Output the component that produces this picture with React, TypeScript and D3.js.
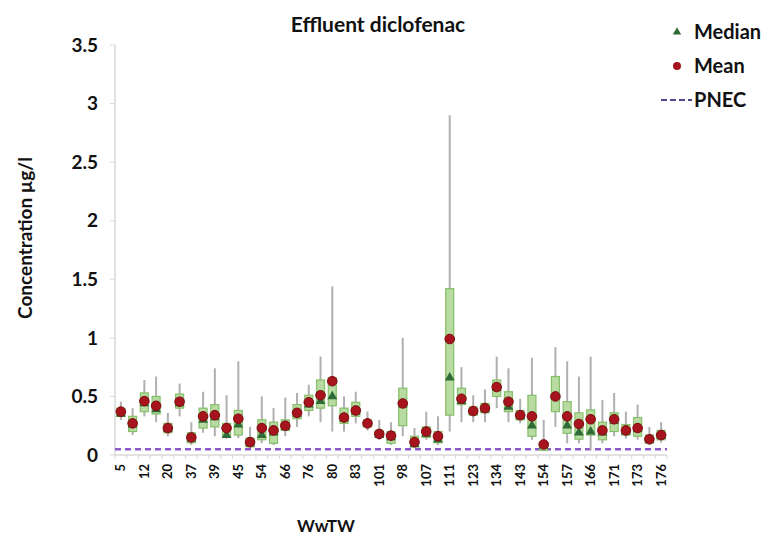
import React from "react";
import * as d3 from "d3";

const categories = ["5","8","12","17","20","31","37","38","39","42","45","50","54","60","66","70","76","78","80","82","83","95","101","97","98","105","107","109","111","120","123","130","134","140","143","150","154","155","157","160","166","169","171","172","173","175","176"];
const shownLabels = ["5","12","20","37","39","45","54","66","76","80","83","101","98","107","111","123","134","143","154","157","166","171","173","176"];
const minVals = [0.30,0.17,0.33,0.28,0.16,0.33,0.085,0.19,0.16,0.14,0.145,0.06,0.10,0.085,0.16,0.24,0.33,0.28,0.20,0.20,0.27,0.21,0.13,0.085,0.16,0.06,0.13,0.085,0.20,0.28,0.28,0.28,0.40,0.28,0.27,0.13,0.035,0.24,0.10,0.10,0.04,0.10,0.16,0.14,0.13,0.085,0.105];
const q1Vals = [0.33,0.20,0.37,0.35,0.19,0.40,0.105,0.23,0.24,0.16,0.17,0.07,0.13,0.10,0.21,0.31,0.38,0.40,0.42,0.27,0.33,0.24,0.15,0.10,0.25,0.07,0.15,0.105,0.34,0.43,0.34,0.36,0.50,0.37,0.30,0.16,0.04,0.37,0.185,0.135,0.17,0.13,0.20,0.17,0.16,0.10,0.13];
const medianVals = [0.35,0.26,0.44,0.39,0.22,0.44,0.14,0.30,0.32,0.17,0.26,0.10,0.17,0.19,0.24,0.35,0.43,0.46,0.50,0.31,0.37,0.27,0.17,0.15,0.43,0.09,0.18,0.13,0.66,0.46,0.37,0.39,0.57,0.41,0.33,0.25,0.08,0.50,0.25,0.19,0.20,0.19,0.29,0.20,0.22,0.13,0.16];
const q3Vals = [0.40,0.33,0.53,0.50,0.27,0.52,0.19,0.40,0.43,0.27,0.38,0.145,0.30,0.28,0.30,0.43,0.51,0.64,0.66,0.40,0.45,0.30,0.21,0.20,0.57,0.16,0.24,0.20,1.42,0.57,0.41,0.44,0.64,0.54,0.38,0.51,0.11,0.67,0.455,0.36,0.385,0.28,0.36,0.26,0.32,0.17,0.21];
const maxVals = [0.455,0.40,0.64,0.67,0.36,0.61,0.28,0.54,0.74,0.51,0.80,0.24,0.50,0.40,0.49,0.53,0.60,0.84,1.44,0.50,0.54,0.37,0.30,0.28,1.00,0.23,0.37,0.33,2.90,0.75,0.51,0.56,0.84,0.74,0.48,0.83,0.30,0.92,0.80,0.67,0.84,0.47,0.53,0.37,0.43,0.24,0.28];
const meanVals = [0.37,0.27,0.46,0.42,0.23,0.455,0.15,0.33,0.34,0.23,0.31,0.11,0.23,0.21,0.25,0.36,0.45,0.51,0.63,0.32,0.38,0.27,0.18,0.165,0.44,0.11,0.20,0.16,0.99,0.48,0.375,0.40,0.58,0.455,0.34,0.33,0.09,0.50,0.33,0.265,0.305,0.21,0.305,0.21,0.23,0.135,0.17];
const pnecValue = 0.05;
const yTicks = [0, 0.5, 1, 1.5, 2, 2.5, 3, 3.5];

const FONT = "Lato, 'Open Sans', sans-serif";

export default function App() {
  const width = 764;
  const height = 546;
  const left = 115;
  const right = 667;
  const top = 45;
  const bottom = 455;

  const x = d3.scaleBand<string>().domain(categories).range([left, right]).padding(0);
  const y = d3.scaleLinear().domain([0, 3.5]).range([bottom, top]);
  const bw = 8;
  const tri = d3.symbol().type(d3.symbolTriangle).size(42)();
  const triLegend = d3.symbol().type(d3.symbolTriangle).size(30)();

  return (
    <svg width={width} height={height} style={{ position: "absolute", left: 0, top: 0, background: "#fff" }}>
      <text x={378} y={32} textAnchor="middle" fontFamily={FONT} fontWeight={700} fontSize={21} fill="#111">Effluent diclofenac</text>

      {/* axes */}
      <line x1={left} x2={left} y1={top} y2={bottom} stroke="#d9d9d9" strokeWidth={1.5} />
      <line x1={left} x2={right} y1={bottom} y2={bottom} stroke="#d9d9d9" strokeWidth={1.5} />
      {yTicks.map((t) => (
        <g key={t}>
          <line x1={left - 5} x2={left} y1={y(t)} y2={y(t)} stroke="#d9d9d9" />
          <text x={98} y={y(t)} dy="0.35em" textAnchor="end" fontFamily={FONT} fontWeight={700} fontSize={19} fill="#111">{t}</text>
        </g>
      ))}
      {categories.map((c) => (
        <line key={"t" + c} x1={(x(c) as number)} x2={(x(c) as number)} y1={bottom} y2={bottom + 4} stroke="#d9d9d9" />
      ))}
      <line x1={right} x2={right} y1={bottom} y2={bottom + 4} stroke="#d9d9d9" />
      {categories.map((c) =>
        shownLabels.includes(c) ? (
          <text key={"l" + c} transform={`translate(${(x(c) as number) + x.bandwidth() / 2 + 4.5},464) rotate(-90)`} textAnchor="end" fontFamily={FONT} fontWeight={700} fontSize={13} fill="#111">{c}</text>
        ) : null
      )}

      {/* PNEC */}
      <line x1={left} x2={right} y1={y(pnecValue)} y2={y(pnecValue)} stroke="#8a5cc8" strokeWidth={2.5} strokeDasharray="6,4" />

      {/* boxes */}
      {categories.map((c, i) => {
        const cx = (x(c) as number) + x.bandwidth() / 2;
        return (
          <g key={"b" + c}>
            <line x1={cx} x2={cx} y1={y(maxVals[i])} y2={y(minVals[i])} stroke="#b0b0b0" strokeWidth={2} />
            <rect x={cx - bw / 2} y={y(q3Vals[i])} width={bw} height={y(q1Vals[i]) - y(q3Vals[i])} fill="#b7dba0" stroke="#86bf68" strokeWidth={1.2} />
            <path d={tri as string} transform={`translate(${cx},${y(medianVals[i])})`} fill="#2f6b37" />
            <circle cx={cx} cy={y(meanVals[i])} r={4.8} fill="#a8141e" stroke="#7c0a12" strokeWidth={1} />
          </g>
        );
      })}

      {/* legend */}
      <path d={triLegend as string} transform="translate(677,32)" fill="#2f6b37" />
      <text x={694} y={39} fontFamily={FONT} fontWeight={700} fontSize={20} fill="#111">Median</text>
      <circle cx={677} cy={66} r={4} fill="#a8141e" />
      <text x={694} y={73} fontFamily={FONT} fontWeight={700} fontSize={20} fill="#111">Mean</text>
      <line x1={661} x2={692} y1={100} y2={100} stroke="#4a4a8c" strokeWidth={2} strokeDasharray="6,3" />
      <text x={694} y={107} fontFamily={FONT} fontWeight={700} fontSize={20} fill="#111">PNEC</text>

      <text transform="translate(32,238) rotate(-90)" textAnchor="middle" fontFamily={FONT} fontWeight={700} fontSize={19} fill="#111">Concentration µg/l</text>
      <text x={326} y={532} textAnchor="middle" fontFamily={FONT} fontWeight={700} fontSize={17} fill="#111">WwTW</text>
    </svg>
  );
}
